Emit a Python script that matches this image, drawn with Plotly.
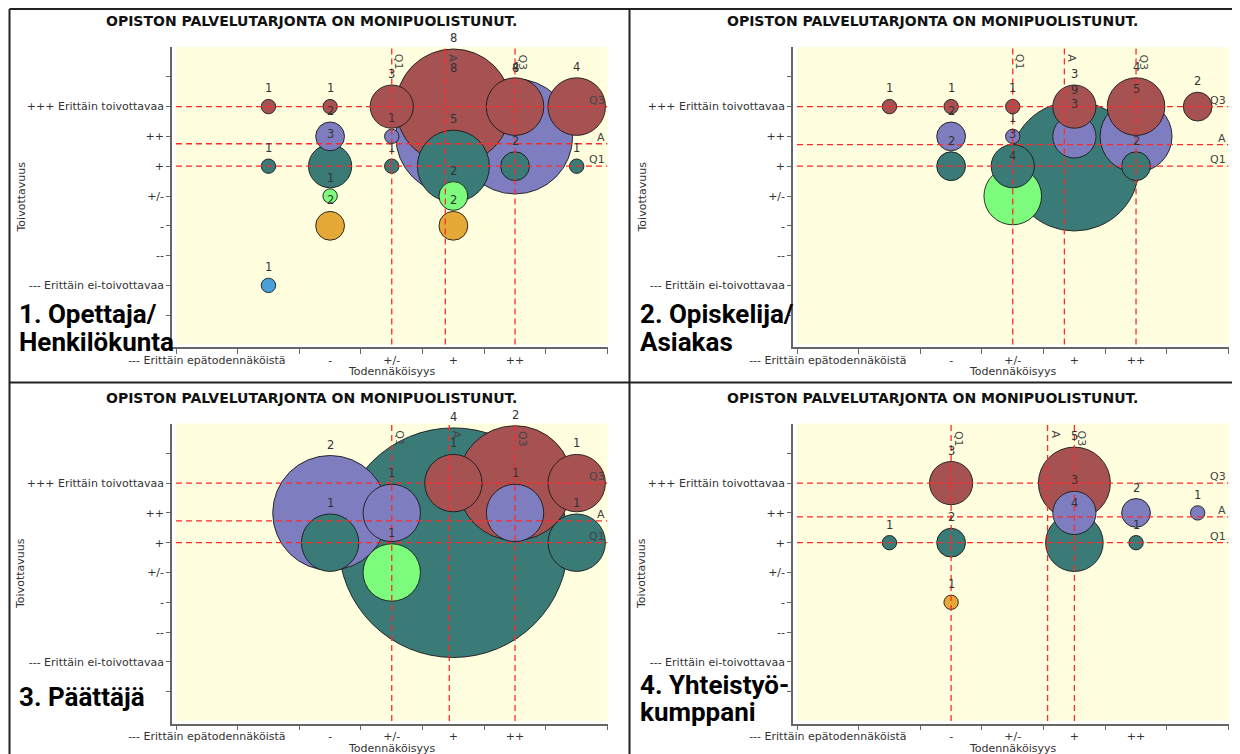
import plotly.graph_objects as go

# The page body has an 8px margin, so the figure is 8px smaller and all
# positions below are given in screen pixels and shifted by that margin.
SCREEN_W, SCREEN_H = 1240, 754
BODY_MARGIN = 8
W, H = SCREEN_W - BODY_MARGIN, SCREEN_H - BODY_MARGIN

# ---------------- data ----------------
COLUMNS = [1, 2, 3, 4, 5, 6]          # x positions of the bubble columns
ROWS = [3, 2, 1, 0, -1, -3]           # +++, ++, +, +/-, -, ---

X_TICKVALS = [0, 1, 2, 3, 4, 5, 6]
X_TICKTEXT = ["--- Erittäin epätodennäköistä", "", "-", "+/-", "+", "++", ""]
Y_TICKVALS = [-4, -3, -2, -1, 0, 1, 2, 3, 4]
Y_TICKTEXT = ["", "--- Erittäin ei-toivottavaa", "--", "-", "+/-", "+", "++",
              "+++ Erittäin toivottavaa", ""]

TITLE = "OPISTON PALVELUTARJONTA ON MONIPUOLISTUNUT."
X_TITLE = "Todennäköisyys"
Y_TITLE = "Toivottavuus"

# counts per column (1..6) for each desirability row
p1_plus3 = [1, 1, 3, 8, 4, 4]
p1_plus2 = [0, 2, 1, 8, 8, 0]
p1_plus1 = [1, 3, 1, 5, 2, 1]
p1_neutral = [0, 1, 0, 2, 0, 0]
p1_minus1 = [0, 2, 0, 2, 0, 0]
p1_minus3 = [1, 0, 0, 0, 0, 0]

p2_plus3 = [1, 1, 1, 3, 4, 2]
p2_plus2 = [0, 2, 1, 3, 5, 0]
p2_plus1 = [0, 2, 3, 9, 2, 0]
p2_neutral = [0, 0, 4, 0, 0, 0]
p2_minus1 = [0, 0, 0, 0, 0, 0]
p2_minus3 = [0, 0, 0, 0, 0, 0]

p3_plus3 = [0, 0, 0, 1, 2, 1]
p3_plus2 = [0, 2, 1, 0, 1, 0]
p3_plus1 = [0, 1, 0, 4, 0, 1]
p3_neutral = [0, 0, 1, 0, 0, 0]
p3_minus1 = [0, 0, 0, 0, 0, 0]
p3_minus3 = [0, 0, 0, 0, 0, 0]

p4_plus3 = [0, 3, 0, 5, 0, 0]
p4_plus2 = [0, 0, 0, 3, 2, 1]
p4_plus1 = [1, 2, 0, 4, 1, 0]
p4_neutral = [0, 0, 0, 0, 0, 0]
p4_minus1 = [0, 1, 0, 0, 0, 0]
p4_minus3 = [0, 0, 0, 0, 0, 0]

# quartile reference lines (x: Q1, Q3 ; y: Q1, Q3)
p1_x_quart = [3, 5]
p1_y_quart = [1, 3]
p2_x_quart = [3, 5]
p2_y_quart = [1, 3]
p3_x_quart = [3, 5]
p3_y_quart = [1, 3]
p4_x_quart = [2, 4]
p4_y_quart = [1, 3]

PANEL_LABELS = [["1. Opettaja/", "Henkilökunta"],
                ["2. Opiskelija/", "Asiakas"],
                ["3. Päättäjä"],
                ["4. Yhteistyö-", "kumppani"]]

# ---------------- style ----------------
COLORS = {3: "#A65253", 2: "#7D7DBF", 1: "#3A7B78", 0: "#7DFB7D", -1: "#E5A937", -3: "#4AA0D9"}
BUBBLE_PX_PER_COUNT = [7.2, 7.2, 28.7, 7.2]
OFFSETS = [(0, 0), (621, 0), (0, 376.5), (621, 376.5)]
LABEL_Y = [[313.5, 342], [313.5, 342], [697], [684.5, 712]]

PX_L, PX_R, PX_T, PX_B = 172, 607.5, 47, 347   # axes domain in screen pixels (panel 1)
BG_L, BG_B = 176, 344.5                        # plot background inner edges
XU = (PX_R - BG_L) / 7.0                       # px per x unit
YU = 29.8                                      # px per y unit
X_RANGE = [-0.5 - (BG_L - PX_L) / XU, 6.5]
Y_RANGE = [5 - (PX_B - PX_T) / YU, 5]
Y_BG_BOTTOM = 5 - (BG_B - PX_T) / YU

TICKFONT = dict(family="DejaVu Sans", size=11, color="#333333")
LINE_RED = "#FF2A2A"

panels = [
    dict(rows=[p1_plus3, p1_plus2, p1_plus1, p1_neutral, p1_minus1, p1_minus3], xq=p1_x_quart, yq=p1_y_quart),
    dict(rows=[p2_plus3, p2_plus2, p2_plus1, p2_neutral, p2_minus1, p2_minus3], xq=p2_x_quart, yq=p2_y_quart),
    dict(rows=[p3_plus3, p3_plus2, p3_plus1, p3_neutral, p3_minus1, p3_minus3], xq=p3_x_quart, yq=p3_y_quart),
    dict(rows=[p4_plus3, p4_plus2, p4_plus1, p4_neutral, p4_minus1, p4_minus3], xq=p4_x_quart, yq=p4_y_quart),
]


def px(xp):
    return (xp - BODY_MARGIN) / W


def py(yp):
    return 1 - (yp - BODY_MARGIN) / H


fig = go.Figure()
layout = dict(width=W, height=H, margin=dict(l=0, r=0, t=0, b=0, autoexpand=False),
              paper_bgcolor="white", plot_bgcolor="white", showlegend=False)
shapes = []
annotations = []

for i, pan in enumerate(panels):
    dx, dy = OFFSETS[i]
    sfx = "" if i == 0 else str(i + 1)
    xref, yref = "x" + sfx, "y" + sfx
    k = BUBBLE_PX_PER_COUNT[i]

    layout["xaxis" + sfx] = dict(
        domain=[px(PX_L + dx), px(PX_R + dx)], range=X_RANGE, anchor=yref, automargin=False,
        tickmode="array", tickvals=X_TICKVALS, ticktext=X_TICKTEXT,
        ticks="outside", ticklen=2, tickcolor="rgba(0,0,0,0)",
        minor=dict(tickmode="array", tickvals=[v + 0.5 for v in [-1] + X_TICKVALS],
                   ticks="outside", ticklen=5, tickcolor="#666666", showgrid=False),
        showline=True, linecolor="#666666", linewidth=1.5,
        showgrid=False, zeroline=False, tickfont=TICKFONT, fixedrange=True)
    layout["yaxis" + sfx] = dict(
        domain=[py(PX_B + dy), py(PX_T + dy)], range=Y_RANGE, anchor=xref, automargin=False,
        tickmode="array", tickvals=Y_TICKVALS, ticktext=Y_TICKTEXT,
        ticks="outside", ticklen=4, tickcolor="#666666",
        showline=True, linecolor="#666666", linewidth=1.5,
        showgrid=False, zeroline=False, tickfont=TICKFONT, fixedrange=True)

    # yellow plot background
    shapes.append(dict(type="rect", xref="paper", yref="paper",
                       x0=px(BG_L + dx), x1=px(PX_R + dx), y0=py(BG_B + dy), y1=py(PX_T + dy),
                       fillcolor="#FFFFE0", line=dict(width=0), layer="below"))

    # bubbles, drawn largest first
    pts = []
    for row, counts in zip(ROWS, pan["rows"]):
        for col, n in zip(COLUMNS, counts):
            if n > 0:
                pts.append((col, row, n))
    pts.sort(key=lambda t: (-t[2], t[1]))
    fig.add_trace(go.Scatter(
        x=[p[0] for p in pts], y=[p[1] for p in pts], mode="markers",
        marker=dict(size=[p[2] for p in pts], sizemode="diameter", sizeref=1.0 / (2 * k),
                    color=[COLORS[p[1]] for p in pts], opacity=1,
                    line=dict(width=1, color="rgba(25,25,25,0.9)")),
        xaxis=xref, yaxis=yref, hoverinfo="skip", cliponaxis=False))
    for col, row, n in pts:
        annotations.append(dict(xref=xref, yref=yref, x=col, y=row, text=str(n), showarrow=False,
                                yshift=k * n + 11, font=dict(family="DejaVu Sans", size=11.5, color="#333333")))

    # mean ("A") lines computed from the counts
    tot = sum(p[2] for p in pts)
    mean_x = sum(p[0] * p[2] for p in pts) / tot
    mean_y = sum(p[1] * p[2] for p in pts) / tot
    xlines = [("Q1", pan["xq"][0]), ("A", mean_x), ("Q3", pan["xq"][1])]
    ylines = [("Q1", pan["yq"][0]), ("A", mean_y), ("Q3", pan["yq"][1])]
    for name, v in xlines:
        shapes.append(dict(type="line", xref=xref, yref=yref, x0=v, x1=v, y0=Y_BG_BOTTOM, y1=5,
                           line=dict(color=LINE_RED, width=1.3, dash="6px,4px"), layer="above"))
        annotations.append(dict(xref=xref, yref="paper", x=v, y=py(PX_T + dy), xshift=7.5, yshift=-5,
                                xanchor="center", yanchor="top", textangle=90, text=name, showarrow=False,
                                font=dict(family="DejaVu Sans", size=11, color="#444444")))
    for name, v in ylines:
        shapes.append(dict(type="line", xref=xref, yref=yref, x0=-0.5, x1=6.5, y0=v, y1=v,
                           line=dict(color=LINE_RED, width=1.3, dash="6px,4px"), layer="above"))
        annotations.append(dict(xref="paper", yref=yref, x=px(606.5 + dx), y=v, yshift=6.5,
                                xanchor="right", yanchor="middle", text=name, showarrow=False,
                                font=dict(family="DejaVu Sans", size=11, color="#444444")))

    # titles
    annotations.append(dict(xref="paper", yref="paper", x=px(311 + dx), y=py(21.3 + dy),
                            text="<b>" + TITLE + "</b>", showarrow=False, xanchor="center", yanchor="middle",
                            font=dict(family="DejaVu Sans", size=14, color="#111111")))
    annotations.append(dict(xref="paper", yref="paper", x=px(391.5 + dx), y=py(371.5 + dy),
                            text=X_TITLE, showarrow=False, xanchor="center", yanchor="middle",
                            font=dict(family="DejaVu Sans", size=11, color="#333333")))
    annotations.append(dict(xref="paper", yref="paper", x=px(20.5 + dx), y=py(197 + dy),
                            text=Y_TITLE, showarrow=False, xanchor="center", yanchor="middle", textangle=-90,
                            font=dict(family="DejaVu Sans", size=11, color="#333333")))
    # panel labels
    for txt, yl in zip(PANEL_LABELS[i], LABEL_Y[i]):
        annotations.append(dict(xref="paper", yref="paper", x=px(17 + dx), y=py(yl),
                                text="<b>" + txt + "</b>", showarrow=False, xanchor="left", yanchor="middle",
                                font=dict(family="Roboto", size=26, color="#000000")))

# panel frames
FRAME = dict(color="#222222", width=2)
shapes += [
    dict(type="line", xref="paper", yref="paper", x0=px(9.5), x1=1, y0=py(9), y1=py(9), line=FRAME),
    dict(type="line", xref="paper", yref="paper", x0=px(9.5), x1=px(9.5), y0=py(9), y1=0, line=FRAME),
    dict(type="line", xref="paper", yref="paper", x0=px(629.5), x1=px(629.5), y0=py(9), y1=0, line=FRAME),
    dict(type="line", xref="paper", yref="paper", x0=px(9.5), x1=1, y0=py(382.5), y1=py(382.5), line=FRAME),
]

layout["shapes"] = shapes
layout["annotations"] = annotations
fig.update_layout(**layout)
fig.write_html("out.html")
